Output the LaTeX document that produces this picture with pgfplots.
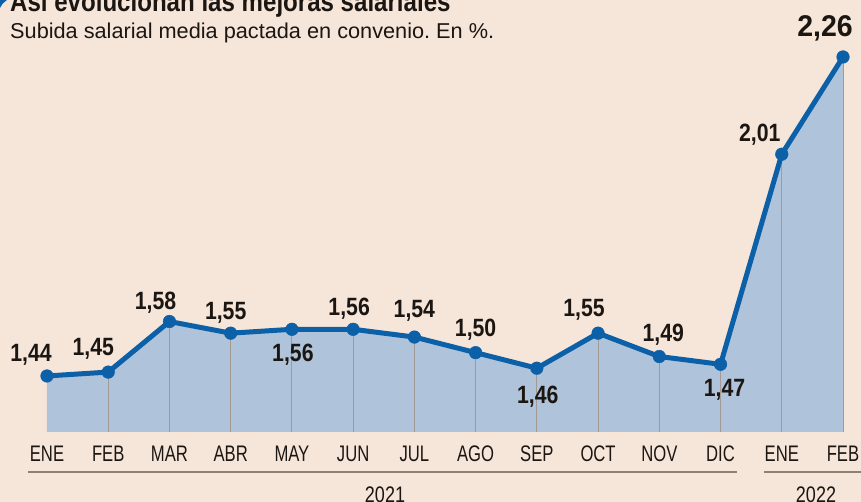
\documentclass[border=0pt]{standalone}
\usepackage{pgfplots}
\pgfplotsset{compat=1.18}
\usepackage{fontspec}
\setmainfont{Liberation Sans}
\frenchspacing
\newfontfamily\condfont[FakeStretch=0.74]{Liberation Sans}
\newfontfamily\labfont[FakeStretch=0.85]{Liberation Sans}
\newfontfamily\bigfont[FakeStretch=0.95]{Liberation Sans}
\newfontfamily\titlefont[FakeStretch=0.86]{Liberation Sans}
\newfontfamily\yearfont[FakeStretch=0.8]{Liberation Sans}
\newfontfamily\subfont[FakeStretch=1.01]{Liberation Sans}
\definecolor{bg}{HTML}{F6E6DA}
\definecolor{areafill}{HTML}{AFC3DA}
\definecolor{linecol}{HTML}{0B60A8}
\definecolor{vline}{HTML}{A39A96}
\definecolor{txt}{HTML}{1B1612}
\definecolor{rulecol}{HTML}{8C8078}
\begin{document}
\begin{tikzpicture}[x=1pt,y=1pt]
\useasboundingbox (0,0) rectangle (861,502);
\clip (0,0) rectangle (861,502);
\fill[bg] (0,0) rectangle (861,502);
\fill[linecol] (0,502) -- (7,502) .. controls (4,500) and (2,498) .. (0,494) -- cycle;
\node[anchor=base west, inner sep=0, text=txt, font=\titlefont\bfseries\fontsize{28}{30}\selectfont] at (10,490) {Así evolucionan las mejoras salariales};
\node[anchor=base west, inner sep=0, text=txt, font=\subfont\fontsize{21.5}{24}\selectfont] at (10,463) {Subida salarial media pactada en convenio. En \%.};
\begin{axis}[
  at={(34.75pt,70pt)}, anchor=south west,
  scale only axis, width=820.5pt, height=390.6pt,
  xmin=-0.2, xmax=13.2, ymin=1.296, ymax=2.30,
  clip mode=individual,
  axis line style={draw=none},
  ytick=\empty,
  xtick={0,...,13},
  xticklabels={ENE,FEB,MAR,ABR,MAY,JUN,JUL,AGO,SEP,OCT,NOV,DIC,ENE,FEB},
  major tick length=0pt,
  xticklabel style={font=\condfont\fontsize{22.5}{24}\selectfont, text=txt, anchor=base, yshift=-30pt, inner sep=0pt},
]
\addplot[draw=none, fill=areafill] coordinates {
 (0,1.296) (0,1.44) (1,1.45) (2,1.58) (3,1.55) (4,1.56) (5,1.56) (6,1.54)
 (7,1.50) (8,1.46) (9,1.55) (10,1.49) (11,1.47) (12,2.01) (13,2.26) (13,1.296)};
\addplot[ycomb, vline, line width=1pt, no marks] coordinates {
 (1,1.45) (2,1.58) (3,1.55) (4,1.56) (5,1.56) (6,1.54)
 (7,1.50) (8,1.46) (9,1.55) (10,1.49) (11,1.47) (12,2.01) (13,2.26)};
\addplot[linecol, line width=5pt, line join=round, mark=*, mark size=6.3pt,
  mark options={fill=linecol, draw=linecol, line width=0.5pt}] coordinates {
 (0,1.44) (1,1.45) (2,1.58) (3,1.55) (4,1.56) (5,1.56) (6,1.54)
 (7,1.50) (8,1.46) (9,1.55) (10,1.49) (11,1.47) (12,2.01) (13,2.26)};
\tikzset{lab/.style={anchor=base, inner sep=0pt, text=txt, font=\labfont\bfseries\fontsize{25}{27}\selectfont}}
\node[lab, xshift=-16pt, yshift=14pt] at (axis cs:0,1.44) {1,44};
\node[lab, xshift=-15pt, yshift=17pt] at (axis cs:1,1.45) {1,45};
\node[lab, xshift=-14pt, yshift=12.5pt] at (axis cs:2,1.58) {1,58};
\node[lab, xshift=-5pt, yshift=14pt] at (axis cs:3,1.55) {1,55};
\node[lab, xshift=1pt, yshift=-32pt] at (axis cs:4,1.56) {1,56};
\node[lab, xshift=-4pt, yshift=14pt] at (axis cs:5,1.56) {1,56};
\node[lab, xshift=0pt, yshift=19.5pt] at (axis cs:6,1.54) {1,54};
\node[lab, xshift=0pt, yshift=16pt] at (axis cs:7,1.50) {1,50};
\node[lab, xshift=1pt, yshift=-35pt] at (axis cs:8,1.46) {1,46};
\node[lab, xshift=-14pt, yshift=17pt] at (axis cs:9,1.55) {1,55};
\node[lab, xshift=4pt, yshift=15.5pt] at (axis cs:10,1.49) {1,49};
\node[lab, xshift=4pt, yshift=-32pt] at (axis cs:11,1.47) {1,47};
\node[lab, xshift=-22pt, yshift=13pt] at (axis cs:12,2.01) {2,01};
\node[anchor=base, inner sep=0pt, text=txt, font=\bigfont\bfseries\fontsize{30}{32}\selectfont, xshift=-18pt, yshift=20pt] at (axis cs:13,2.26) {2,26};
\end{axis}
\draw[rulecol, line width=2pt] (28,30) -- (737,30);
\draw[rulecol, line width=2pt] (764,30) -- (861,30);
\node[anchor=base, inner sep=0pt, text=txt, font=\yearfont\fontsize{22.5}{24}\selectfont] at (385,-1) {2021};
\node[anchor=base, inner sep=0pt, text=txt, font=\yearfont\fontsize{22.5}{24}\selectfont] at (816,-1) {2022};
\end{tikzpicture}
\end{document}
